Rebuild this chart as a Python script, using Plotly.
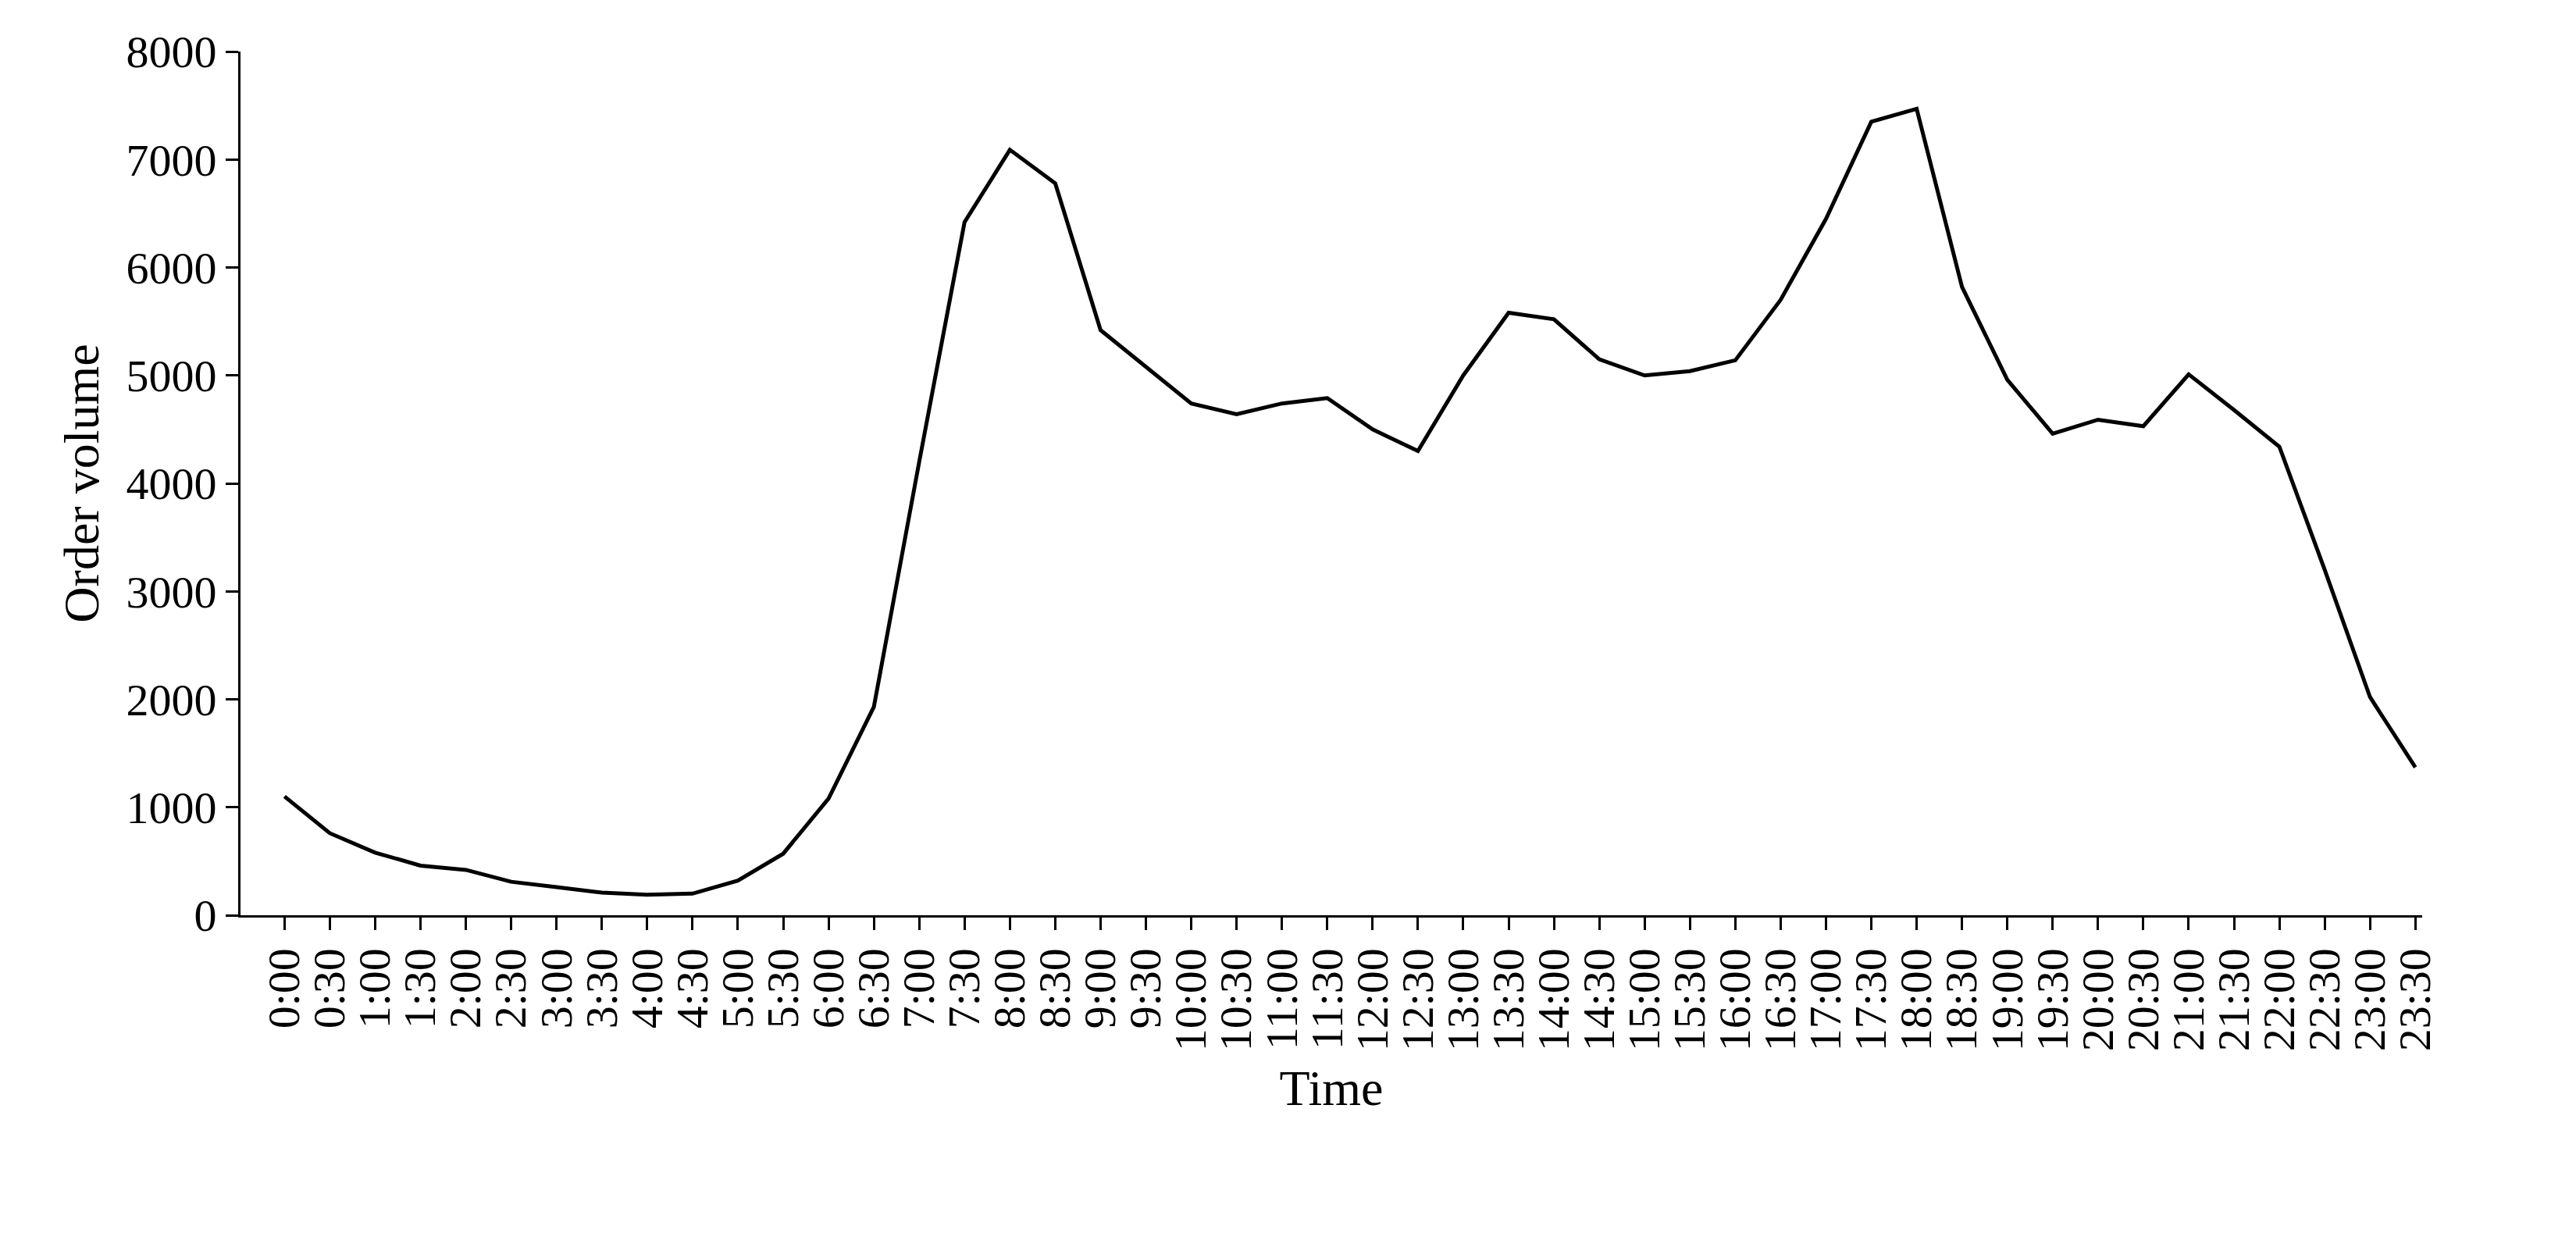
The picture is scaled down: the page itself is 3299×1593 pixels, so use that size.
import plotly.graph_objects as go

times = [f"{h}:{m:02d}" for h in range(24) for m in (0, 30)]
orders = [1100, 760, 580, 460, 420, 310, 260, 210, 190, 200, 320, 570,
          1080, 1930, 4200, 6420, 7090, 6780, 5420, 5080, 4740, 4640, 4740, 4790,
          4500, 4300, 5000, 5580, 5520, 5150, 5000, 5040, 5140, 5700, 6450, 7350,
          7470, 5820, 4960, 4460, 4590, 4530, 5010, 4680, 4340, 3200, 2020, 1370]
yticks = list(range(0, 8001, 1000))

fig = go.Figure(go.Scatter(x=list(range(len(times))), y=orders, mode="lines",
                           line=dict(color="black", width=5)))
font = "Liberation Serif, Times New Roman, serif"
fig.update_layout(
    width=3299, height=1593, plot_bgcolor="white", paper_bgcolor="white",
    margin=dict(l=300, r=205, t=58, b=429), showlegend=False,
    font=dict(family=font, color="black", size=58),
    xaxis=dict(tickmode="array", tickvals=list(range(len(times))), ticktext=times,
               tickangle=-90, range=[-0.97, 47.15], showline=True, linecolor="black",
               linewidth=3, ticks="outside", ticklen=16, tickwidth=3, tickcolor="black",
               showgrid=False, zeroline=False,
               title=dict(text="Time", font=dict(size=64), standoff=25)),
    yaxis=dict(tickvals=yticks, range=[0, 8000], showline=True, linecolor="black",
               linewidth=3, ticks="outside", ticklen=16, tickwidth=3, tickcolor="black",
               showgrid=False, zeroline=False,
               title=dict(text="Order volume", font=dict(size=64), standoff=15)),
)
fig.write_html("out.html")
